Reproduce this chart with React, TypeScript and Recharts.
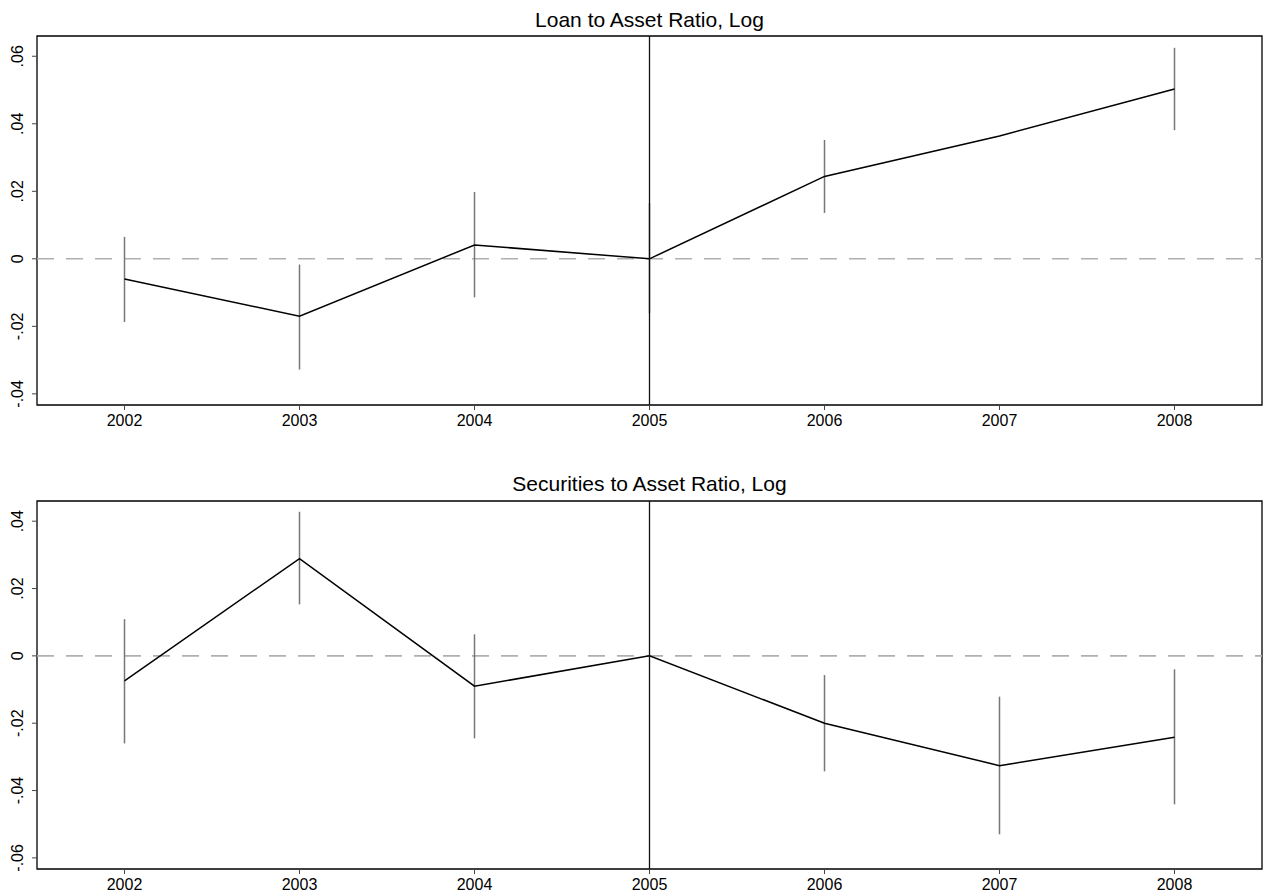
import { ComposedChart, Line, XAxis, YAxis, ErrorBar, ReferenceLine, ReferenceArea } from "recharts";

const years = [2002, 2003, 2004, 2005, 2006, 2007, 2008];
const yearTicks = [2002, 2003, 2004, 2005, 2006, 2007, 2008];

// Loan to Asset Ratio, Log
const loanCoef = [-0.006, -0.017, 0.0041, 0, 0.0244, 0.0364, 0.0503];
const loanLow = [-0.0187, -0.0328, -0.0114, -0.0161, 0.0136, null, 0.0381];
const loanHigh = [0.0065, -0.0017, 0.0198, 0.0165, 0.0352, null, 0.0625];
const loanTicks = [-0.04, -0.02, 0, 0.02, 0.04, 0.06];

// Securities to Asset Ratio, Log
const secCoef = [-0.0074, 0.0289, -0.009, 0, -0.02, -0.0326, -0.0242];
const secLow = [-0.026, 0.0153, -0.0245, null, -0.0343, -0.053, -0.0441];
const secHigh = [0.0109, 0.0428, 0.0064, null, -0.0057, -0.0121, -0.004];
const secTicks = [-0.06, -0.04, -0.02, 0, 0.02, 0.04];

const font = "'Liberation Sans', Arial, Helvetica, sans-serif";

function build(coef: number[], low: (number | null)[], high: (number | null)[]) {
  return years.map((year, i) => ({
    year,
    coef: coef[i],
    err: low[i] == null || high[i] == null ? null : [coef[i] - (low[i] as number), (high[i] as number) - coef[i]],
  }));
}

const fmt = (v: number) => {
  if (Math.abs(v) < 1e-9) return "0";
  return (v < 0 ? "-" : "") + Math.abs(v).toFixed(2).replace(/^0/, "");
};

const YTick = (props: any) => {
  const { x, y, payload } = props;
  return (
    <text
      x={x}
      y={y}
      transform={`rotate(-90, ${x}, ${y})`}
      textAnchor="middle"
      fontSize={16}
      fill="#000"
    >
      {fmt(payload.value)}
    </text>
  );
};

type PanelProps = {
  data: any[];
  ticks: number[];
  domain: [number, number];
  height: number;
  marginTop: number;
  marginBottom: number;
  xAxisHeight: number;
};

function Panel({ data, ticks, domain, height, marginTop, marginBottom, xAxisHeight }: PanelProps) {
  return (
    <ComposedChart
      width={1263}
      height={height}
      data={data}
      margin={{ top: marginTop, right: 1, bottom: marginBottom, left: 0 }}
    >
      <XAxis
        dataKey="year"
        type="number"
        domain={[2001.5, 2008.5]}
        ticks={yearTicks}
        allowDataOverflow
        height={xAxisHeight}
        axisLine={false}
        tickLine={{ stroke: "#444" }}
        tickSize={5}
        tickMargin={5}
        tick={{ fontSize: 16, fill: "#000" }}
      />
      <YAxis
        type="number"
        domain={domain}
        ticks={ticks}
        allowDataOverflow
        width={37}
        axisLine={false}
        tickLine={{ stroke: "#444" }}
        tickSize={5}
        tickMargin={9}
        tick={<YTick />}
      />
      <ReferenceArea
        x1={2001.5}
        x2={2008.5}
        y1={domain[0]}
        y2={domain[1]}
        fill="none"
        stroke="#000"
        strokeWidth={1.3}
        ifOverflow="visible"
      />
      <ReferenceLine y={0} stroke="#b0b0b0" strokeWidth={1.6} strokeDasharray="17 12" />
      <Line
        dataKey="coef"
        type="linear"
        stroke="#000"
        strokeWidth={1.5}
        dot={false}
        isAnimationActive={false}
      >
        <ErrorBar dataKey="err" width={0} stroke="#777" strokeWidth={1.5} direction="y" />
      </Line>
      <ReferenceLine x={2005} stroke="#111" strokeWidth={1.3} />
    </ComposedChart>
  );
}

export default function App() {
  const loanData = build(loanCoef, loanLow, loanHigh);
  const secData = build(secCoef, secLow, secHigh);
  const titleStyle = {
    position: "absolute" as const,
    left: 37,
    width: 1225,
    textAlign: "center" as const,
    fontSize: 21,
    lineHeight: "21px",
    color: "#000",
  };
  return (
    <div style={{ position: "absolute", left: 0, top: 0, width: 1263, height: 896, background: "#fff", fontFamily: font }}>
      <div style={{ ...titleStyle, top: 9 }}>Loan to Asset Ratio, Log</div>
      <div style={{ position: "absolute", left: 0, top: 0 }}>
        <Panel
          data={loanData}
          ticks={loanTicks}
          domain={[-0.0433, 0.066]}
          height={440}
          marginTop={36}
          marginBottom={5}
          xAxisHeight={30}
        />
      </div>
      <div style={{ ...titleStyle, top: 473 }}>Securities to Asset Ratio, Log</div>
      <div style={{ position: "absolute", left: 0, top: 440 }}>
        <Panel
          data={secData}
          ticks={secTicks}
          domain={[-0.0633, 0.046]}
          height={456}
          marginTop={61}
          marginBottom={0}
          xAxisHeight={27}
        />
      </div>
    </div>
  );
}
